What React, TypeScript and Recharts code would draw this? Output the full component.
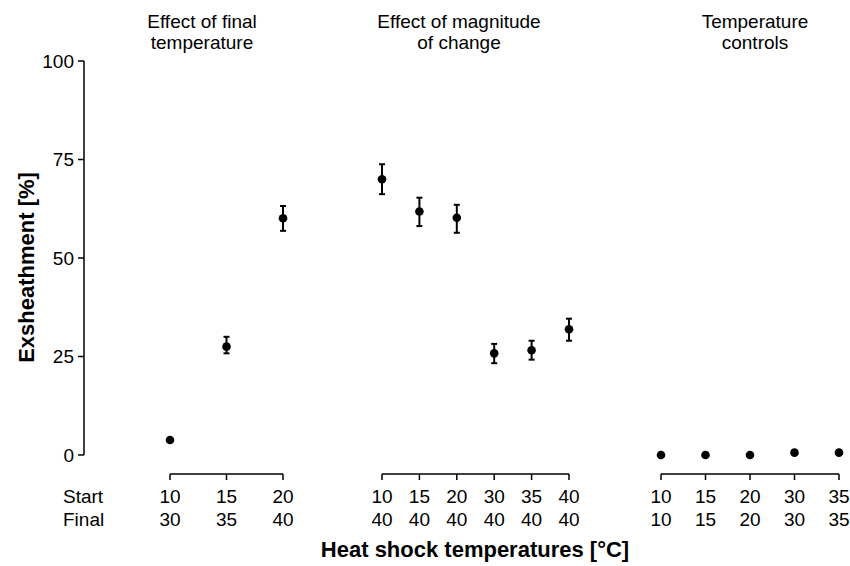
import React from 'react';
import { ScatterChart, Scatter, XAxis, YAxis, ErrorBar } from 'recharts';

// panel 1: effect of final temperature
const finalStart = ['10', '15', '20'];
const finalEnd = ['30', '35', '40'];
const finalMean = [3.8, 27.5, 60.1];
const finalLow = [3.3, 25.8, 56.9];
const finalHigh = [4.3, 30.0, 63.2];

// panel 2: effect of magnitude of change
const magStart = ['10', '15', '20', '30', '35', '40'];
const magEnd = ['40', '40', '40', '40', '40', '40'];
const magMean = [70.0, 61.8, 60.2, 25.8, 26.6, 31.9];
const magLow = [66.2, 58.1, 56.4, 23.3, 24.2, 29.0];
const magHigh = [73.8, 65.3, 63.5, 28.2, 29.0, 34.6];

// panel 3: temperature controls
const ctrlStart = ['10', '15', '20', '30', '35'];
const ctrlEnd = ['10', '15', '20', '30', '35'];
const ctrlMean = [0, 0, 0, 0.6, 0.6];
const ctrlLow = [0, 0, 0, 0.6, 0.6];
const ctrlHigh = [0, 0, 0, 0.6, 0.6];

const yTicks = [0, 25, 50, 75, 100];

const FONT = '"Liberation Sans", Arial, Helvetica, sans-serif';
const H = 566;
const TOP = 61;
const AXIS_H = 60;
const BOTTOM = H - 474 - AXIS_H;

const build = (mean: number[], low: number[], high: number[]) =>
  mean.map((m, i) => ({ i, y: m, err: [m - low[i], high[i] - m] }));

const Dot = (p: any) => <circle cx={p.cx} cy={p.cy} r={4.3} fill="#000" />;

const makeTick = (start: string[], end: string[]) => (p: any) => {
  const idx = p.payload.value;
  return (
    <g>
      <text x={p.x} y={p.y + 21} textAnchor="middle" fontSize={19} fontFamily={FONT} fill="#000">
        {start[idx]}
      </text>
      <text x={p.x} y={p.y + 44} textAnchor="middle" fontSize={19} fontFamily={FONT} fill="#000">
        {end[idx]}
      </text>
    </g>
  );
};

interface PanelProps {
  left: number;
  width: number;
  padL: number;
  padR: number;
  start: string[];
  end: string[];
  mean: number[];
  low: number[];
  high: number[];
  showY?: boolean;
}

const Panel: React.FC<PanelProps> = ({ left, width, padL, padR, start, end, mean, low, high, showY }) => {
  const n = mean.length;
  const yW = showY ? 84 : 0;
  const segLen = width - yW - padL - padR;
  const data = build(mean, low, high);
  return (
    <div style={{ position: 'absolute', left, top: 0 }}>
      <ScatterChart width={width} height={H} margin={{ top: TOP, right: 0, bottom: BOTTOM, left: 0 }}>
        <XAxis
          type="number"
          dataKey="i"
          domain={[0, n - 1]}
          ticks={data.map((d) => d.i)}
          padding={{ left: padL, right: padR }}
          height={AXIS_H}
          axisLine={{ stroke: '#000', strokeWidth: 1.5, strokeDasharray: `0 ${padL} ${segLen} 2000` }}
          tickLine={{ stroke: '#000', strokeWidth: 1.5 }}
          tickSize={6}
          tick={makeTick(start, end)}
          interval={0}
        />
        <YAxis
          type="number"
          dataKey="y"
          domain={[0, 100]}
          ticks={yTicks}
          padding={{ top: 0, bottom: 19 }}
          hide={!showY}
          width={84}
          axisLine={{ stroke: '#000', strokeWidth: 1.5, strokeDasharray: '394 2000' }}
          tickLine={{ stroke: '#000', strokeWidth: 1.5 }}
          tickSize={6}
          tickMargin={4}
          tick={{ fill: '#000', fontSize: 19, fontFamily: FONT }}
          label={(props: any) => {
            const vb = props.viewBox;
            const cx = 26;
            const cy = vb.y + vb.height / 2;
            return (
              <text
                x={cx}
                y={cy}
                transform={`rotate(-90 ${cx} ${cy})`}
                textAnchor="middle"
                dominantBaseline="central"
                fontSize={22}
                fontWeight="bold"
                fontFamily={FONT}
                fill="#000"
              >
                Exsheathment [%]
              </text>
            );
          }}
        />
        <Scatter data={data} fill="#000" shape={Dot} isAnimationActive={false}>
          <ErrorBar dataKey="err" direction="y" width={3} stroke="#000" strokeWidth={2} />
        </Scatter>
      </ScatterChart>
    </div>
  );
};

const textStyle = { fontFamily: FONT, fill: '#000' };

export default function App() {
  return (
    <div style={{ position: 'absolute', left: 0, top: 0, width: 850, height: H, background: '#fff' }}>
      <Panel left={0} width={320} padL={86} padR={37} showY start={finalStart} end={finalEnd} mean={finalMean} low={finalLow} high={finalHigh} />
      <Panel left={330} width={280} padL={52} padR={41} start={magStart} end={magEnd} mean={magMean} low={magLow} high={magHigh} />
      <Panel left={620} width={230} padL={41} padR={11} start={ctrlStart} end={ctrlEnd} mean={ctrlMean} low={ctrlLow} high={ctrlHigh} />
      <svg width={850} height={H} style={{ position: 'absolute', left: 0, top: 0, pointerEvents: 'none' }}>
        <g fontSize={19} textAnchor="middle" style={textStyle}>
          <text x={202} y={28}>Effect of final</text>
          <text x={202} y={49}>temperature</text>
          <text x={459} y={28}>Effect of magnitude</text>
          <text x={459} y={49}>of change</text>
          <text x={755} y={28}>Temperature</text>
          <text x={755} y={49}>controls</text>
        </g>
        <g fontSize={19} style={textStyle}>
          <text x={63} y={503}>Start</text>
          <text x={63} y={526}>Final</text>
        </g>
        <text x={475} y={557} fontSize={22} fontWeight="bold" textAnchor="middle" style={textStyle}>
          Heat shock temperatures [°C]
        </text>
      </svg>
    </div>
  );
}
